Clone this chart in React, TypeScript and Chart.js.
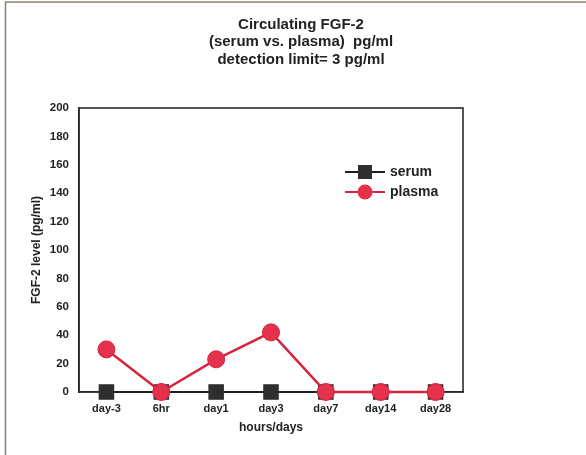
import React, { useEffect, useRef } from "react";
import { Chart, registerables } from "chart.js";

Chart.register(...registerables);

const categories = ["day-3", "6hr", "day1", "day3", "day7", "day14", "day28"];
const serumValues = [0, 0, 0, 0, 0, 0, 0];
const plasmaValues = [30, 0, 23, 42, 0, 0, 0];
const seriesNames = ["serum", "plasma"];
const titleLines = ["Circulating FGF-2", "(serum vs. plasma)  pg/ml", "detection limit= 3 pg/ml"];
const yAxisTitle = "FGF-2 level (pg/ml)";
const xAxisTitle = "hours/days";
const yMin = 0;
const yMax = 200;
const yStep = 20;

const FONT = "'Liberation Sans', Arial, sans-serif";
const SERUM_COLOR = "#2e2e2e";
const PLASMA_LINE = "#d8243e";
const PLASMA_FILL = "#e5314b";

const pageFrame = {
  id: "pageFrame",
  beforeDraw(chart: any) {
    const { ctx, width, height } = chart;
    ctx.save();
    ctx.strokeStyle = "#8c8378";
    ctx.lineWidth = 1.5;
    ctx.beginPath();
    ctx.moveTo(5.5, height);
    ctx.lineTo(5.5, 2);
    ctx.lineTo(width, 2);
    ctx.stroke();
    ctx.restore();
  },
};

const plotFrame = {
  id: "plotFrame",
  beforeDatasetsDraw(chart: any) {
    const { ctx, chartArea } = chart;
    ctx.save();
    ctx.strokeStyle = "#2a2a2a";
    ctx.lineWidth = 1.6;
    ctx.strokeRect(chartArea.left, chartArea.top, chartArea.right - chartArea.left, chartArea.bottom - chartArea.top);
    ctx.restore();
  },
};

const insideLegend = {
  id: "insideLegend",
  afterDraw(chart: any) {
    const { ctx, chartArea } = chart;
    const x0 = chartArea.right - 118;
    const y0 = chartArea.top + 64;
    const gap = 20;
    ctx.save();
    seriesNames.forEach((name, i) => {
      const y = y0 + i * gap;
      const isSerum = i === 0;
      ctx.strokeStyle = isSerum ? "#1f1f1f" : PLASMA_LINE;
      ctx.lineWidth = 2;
      ctx.beginPath();
      ctx.moveTo(x0, y);
      ctx.lineTo(x0 + 40, y);
      ctx.stroke();
      const cx = x0 + 20;
      if (isSerum) {
        ctx.fillStyle = SERUM_COLOR;
        ctx.fillRect(cx - 7, y - 7, 14, 14);
      } else {
        ctx.fillStyle = PLASMA_FILL;
        ctx.beginPath();
        ctx.arc(cx, y, 7.5, 0, Math.PI * 2);
        ctx.fill();
      }
      ctx.fillStyle = "#222";
      ctx.font = `bold 14px ${FONT}`;
      ctx.textBaseline = "middle";
      ctx.textAlign = "left";
      ctx.fillText(name, x0 + 45, y);
    });
    ctx.restore();
  },
};

export default function App() {
  const ref = useRef<HTMLCanvasElement | null>(null);

  useEffect(() => {
    if (!ref.current) return;
    const chart = new Chart(ref.current, {
      type: "line",
      data: {
        labels: categories,
        datasets: [
          {
            label: seriesNames[0],
            data: serumValues,
            borderColor: "#1f1f1f",
            borderWidth: 2,
            backgroundColor: SERUM_COLOR,
            pointStyle: "rect",
            pointRadius: 11,
            pointBackgroundColor: SERUM_COLOR,
            pointBorderColor: SERUM_COLOR,
            pointBorderWidth: 0,
            order: 1,
            clip: false,
          } as any,
          {
            label: seriesNames[1],
            data: plasmaValues,
            borderColor: PLASMA_LINE,
            borderWidth: 2.5,
            backgroundColor: PLASMA_FILL,
            pointStyle: "circle",
            pointRadius: 8.5,
            pointBackgroundColor: PLASMA_FILL,
            pointBorderColor: "#cf2540",
            pointBorderWidth: 1,
            order: 0,
            clip: false,
          } as any,
        ],
      },
      options: {
        animation: false,
        responsive: false,
        maintainAspectRatio: false,
        layout: { padding: { left: 16, right: 0, top: 0, bottom: 0 } },
        plugins: {
          legend: { display: false },
          tooltip: { enabled: false },
          title: {
            display: true,
            text: titleLines,
            color: "#222",
            font: { family: FONT, size: 15, weight: "bold", lineHeight: 1.167 },
            padding: { top: 16, bottom: 39.5 },
          },
        },
        scales: {
          x: {
            type: "category",
            offset: true,
            grid: { display: false, drawTicks: false },
            border: { display: true, color: "#2a2a2a", width: 1.6 },
            ticks: {
              color: "#222",
              font: { family: FONT, size: 11, weight: "bold" },
              padding: 10,
              maxRotation: 0,
              autoSkip: false,
            },
            title: {
              display: true,
              text: xAxisTitle,
              color: "#222",
              font: { family: FONT, size: 12, weight: "bold" },
              padding: { top: 0, bottom: 20 },
            },
            afterFit(scale: any) {
              scale.height = 63;
            },
          },
          y: {
            min: yMin,
            max: yMax,
            position: "left",
            grid: { display: false, drawTicks: false },
            border: { display: true, color: "#2a2a2a", width: 1.6 },
            ticks: {
              stepSize: yStep,
              color: "#222",
              font: { family: FONT, size: 11.5, weight: "bold" },
              padding: 10,
            },
            title: {
              display: true,
              text: yAxisTitle,
              color: "#222",
              font: { family: FONT, size: 12, weight: "bold" },
              padding: { top: 13, bottom: 0 },
            },
            afterFit(scale: any) {
              scale.width = 63;
            },
          },
          yR: {
            position: "right",
            display: true,
            grid: { display: false, drawTicks: false },
            border: { display: false },
            ticks: { display: false },
            afterFit(scale: any) {
              scale.width = 123;
            },
          },
        },
      } as any,
      plugins: [pageFrame, plotFrame, insideLegend],
    });
    return () => chart.destroy();
  }, []);

  return (
    <div style={{ position: "fixed", left: 0, top: 0, width: 586, height: 455, background: "#fff" }}>
      <canvas ref={ref} width={586} height={455} style={{ width: 586, height: 455, display: "block" }} />
    </div>
  );
}
